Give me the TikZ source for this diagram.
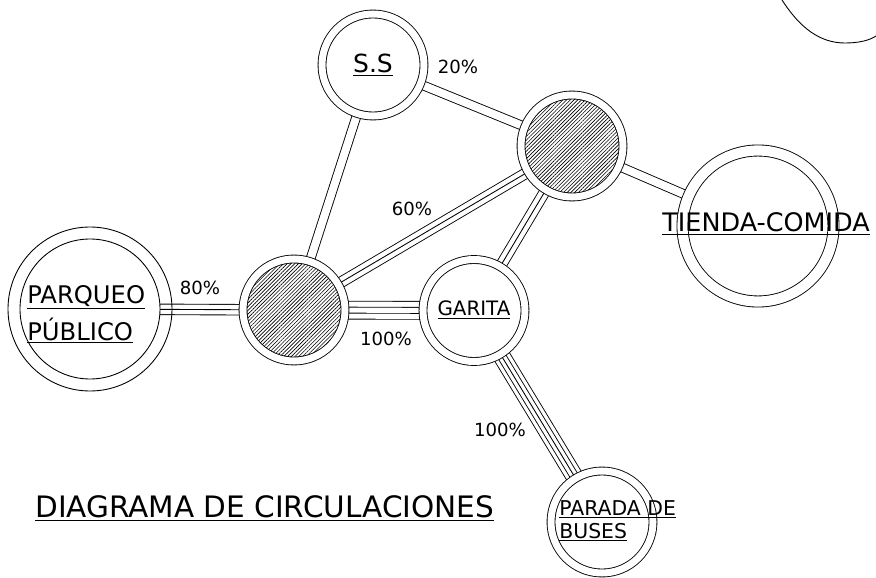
\documentclass[tikz,border=0pt]{standalone}
\usepackage{fontspec}
\setmainfont{DejaVu Sans}
\usetikzlibrary{patterns.meta}
\pgfdeclarelayer{background}
\pgfsetlayers{background,main}

\tikzset{
  place/.style={circle, draw, double, double distance=4pt, line width=0.5pt,
    fill=white, inner sep=0pt, minimum size=2.04cm},
  bigplace/.style={place, double distance=5.8pt, minimum size=3.02cm},
  hub/.style={circle, draw, double, double distance=4pt, line width=0.5pt,
    inner sep=0pt, minimum size=2.04cm, preaction={fill=white},
    pattern={Lines[angle=45, distance=1.5pt, line width=0.35pt]}},
  bigname/.style={font=\fontsize{14.2}{17}\selectfont, inner sep=0pt},
  smallname/.style={font=\fontsize{11.6}{13}\selectfont, inner sep=0pt},
  pct/.style={font=\fontsize{10.3}{12}\selectfont, inner sep=0pt},
  titletxt/.style={font=\fontsize{16.8}{19}\selectfont, inner sep=0pt},
  % connectors with 2, 3, 4, 5 lines
  lines2/.style={double, double distance=4.5pt, line width=0.5pt},
  lines3/.style={draw=black, line width=6.5pt,
    postaction={draw=white, line width=5.5pt},
    postaction={draw=black, line width=0.5pt}},
  lines4/.style={draw=black, line width=10.7pt,
    postaction={draw=white, line width=9.7pt},
    postaction={draw=black, line width=3.9pt},
    postaction={draw=white, line width=2.9pt}},
  lines5/.style={draw=black, line width=10.1pt,
    postaction={draw=white, line width=9.1pt},
    postaction={draw=black, line width=5.3pt},
    postaction={draw=white, line width=4.3pt},
    postaction={draw=black, line width=0.5pt}}
}

\begin{document}
\begin{tikzpicture}
    \useasboundingbox (0,0) rectangle (17.52,11.54);

    % zonas
    \node[place] (ss) at (7.46,10.24) {\fontsize{14.2}{17}\selectfont\underline{S.S}};
    \node[hub] (hubT) at (11.44,8.62) {};
    \node[bigplace] (tienda) at (15.16,7.02) {};
    \node[hub] (hubL) at (5.88,5.34) {};
    \node[place] (garita) at (9.48,5.33) {\fontsize{11.3}{13}\selectfont\underline{GARITA}};
    \node[place] (parada) at (12.04,1.10) {};
    \node[circle, draw, line width=0.5pt, fill=white, inner sep=0pt,
      minimum size=2.8cm] (pq) at (1.80,5.36) {};
    \draw[line width=0.5pt] (pq.center) circle (1.64cm);

    % textos
    \node[bigname, anchor=base west] (tdtxt) at (13.24,6.90) {\fontsize{14.5}{17}\selectfont\underline{TIENDA-COMIDA}};
    \node[bigname, anchor=base west] (pqa) at (0.54,5.48) {\fontsize{13.8}{16}\selectfont\underline{PARQUEO}};
    \node[bigname, anchor=base west] (pqb) at (0.54,4.74) {\fontsize{13.8}{16}\selectfont\underline{PÚBLICO}};
    \node[smallname, anchor=base west] (pba) at (11.18,1.24) {\underline{PARADA DE}};
    \node[smallname, anchor=base west] (pbb) at (11.18,0.78) {\underline{BUSES}};
    \node[titletxt, anchor=base west] (title) at (0.70,1.20) {\underline{DIAGRAMA DE CIRCULACIONES}};

    % porcentajes
    \node[pct] (p20) at (9.16,10.20) {20\%};
    \node[pct] (p60) at (8.24,7.36) {60\%};
    \node[pct] (p80) at (4.00,5.78) {80\%};
    \node[pct] (p100a) at (7.72,4.76) {100\%};
    \node[pct] (p100b) at (10.00,2.94) {100\%};

    % circulaciones
    \begin{pgfonlayer}{background}
        \draw[lines2] (ss.center) -- (hubT.center);
        \draw[lines2] (ss.center) -- (hubL.center);
        \draw[lines2] (hubT.center) -- (tienda.center);
        \draw[lines3] (hubL.center) -- (hubT.center);
        \draw[lines3] (hubT.center) -- (garita.center);
        \draw[lines3] (pq.center) -- (hubL.center);
        \draw[lines4] (hubL.center) -- (garita.center);
        \draw[lines5] (garita.center) -- (parada.center);
    \end{pgfonlayer}

    % borde arriba a la derecha
    \draw[line width=0.5pt] (15.64,11.54) .. controls (16.00,10.98) and (16.40,10.68) .. (16.90,10.68)
        .. controls (17.20,10.68) and (17.40,10.74) .. (17.52,10.82);
\end{tikzpicture}
\end{document}
